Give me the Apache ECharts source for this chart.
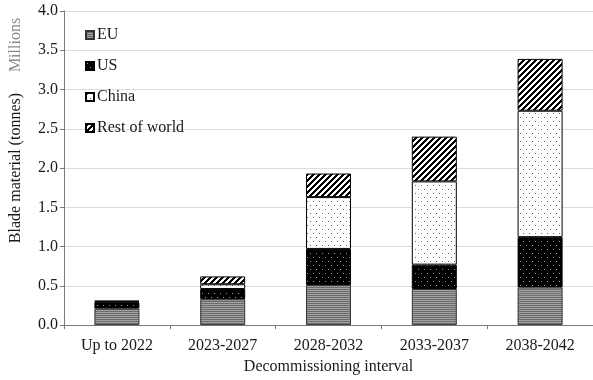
<!DOCTYPE html>
<html>
<head>
<meta charset="utf-8">
<script src="https://cdn.jsdelivr.net/npm/echarts@6/dist/echarts.min.js"></script>
<style>
  html, body { margin: 0; padding: 0; background: #fff; }
  #chart { width: 593px; height: 380px; }
</style>
</head>
<body>
<div id="chart"></div>
<script>
// Decommissioned blade material by region, millions of tonnes
const categories = ['Up to 2022', '2023-2027', '2028-2032', '2033-2037', '2038-2042'];
const euValues = [0.21, 0.33, 0.51, 0.46, 0.48];
const usValues = [0.08, 0.13, 0.46, 0.31, 0.64];
const chinaValues = [0.01, 0.06, 0.66, 1.06, 1.61];
const restValues = [0.01, 0.10, 0.30, 0.57, 0.66];
const yTicks = [0, 0.5, 1.0, 1.5, 2.0, 2.5, 3.0, 3.5, 4.0];

const FONT = "'Liberation Serif', 'DejaVu Serif', serif";
const FS = 16;

// Small repeating tiles used as fill patterns
function tile(w, h, draw) {
  const c = document.createElement('canvas');
  c.width = w; c.height = h;
  const ctx = c.getContext('2d');
  draw(ctx, w, h);
  return { image: c, repeat: 'repeat' };
}

const euFill = tile(4, 2, (ctx) => {
  ctx.fillStyle = '#a2a2a2'; ctx.fillRect(0, 0, 4, 1);
  ctx.fillStyle = '#6c6c6c'; ctx.fillRect(0, 1, 4, 1);
});
const usFill = tile(6, 8, (ctx) => {
  ctx.fillStyle = '#000'; ctx.fillRect(0, 0, 6, 8);
  ctx.fillStyle = '#9a9a9a';
  ctx.fillRect(1, 1, 1, 1);
  ctx.fillRect(4, 5, 1, 1);
});
const chinaFill = tile(6, 8, (ctx) => {
  ctx.fillStyle = '#fff'; ctx.fillRect(0, 0, 6, 8);
  ctx.fillStyle = '#6a6a6a';
  ctx.fillRect(1, 1, 1, 1);
  ctx.fillRect(4, 5, 1, 1);
});
const restFill = tile(6, 6, (ctx) => {
  for (let y = 0; y < 6; y++) {
    for (let x = 0; x < 6; x++) {
      ctx.fillStyle = ((x + y) % 6) < 3 ? '#000' : '#fff';
      ctx.fillRect(x, y, 1, 1);
    }
  }
});

function barSeries(name, data, fill, border) {
  return {
    name: name,
    type: 'bar',
    stack: 'total',
    barWidth: 45,
    data: data,
    itemStyle: { color: fill, borderColor: border, borderWidth: 1 },
    emphasis: { disabled: true }
  };
}

const chart = echarts.init(document.getElementById('chart'), null, { renderer: 'canvas' });
chart.setOption({
  animation: false,
  backgroundColor: '#fff',
  textStyle: { fontFamily: FONT },
  grid: { left: 62, top: 11, width: 534, bottom: 53, containLabel: false },
  legend: {
    orient: 'vertical',
    left: 80,
    top: 22,
    icon: 'rect',
    itemWidth: 8,
    itemHeight: 8,
    itemGap: 15,
    selectedMode: false,
    textStyle: { fontFamily: FONT, fontSize: FS, color: '#1a1a1a', padding: [0, 0, 0, -2] },
    data: ['EU', 'US', 'China', 'Rest of world']
  },
  xAxis: {
    type: 'category',
    data: categories,
    name: 'Decommissioning interval',
    nameLocation: 'middle',
    nameGap: 33,
    nameTextStyle: { fontFamily: FONT, fontSize: FS, color: '#1a1a1a' },
    axisLine: { lineStyle: { color: '#7a7a7a', width: 1 } },
    axisTick: { show: true, length: 4, lineStyle: { color: '#7a7a7a' } },
    axisLabel: { fontFamily: FONT, fontSize: FS, color: '#1a1a1a', margin: 13 }
  },
  yAxis: {
    type: 'value',
    min: yTicks[0],
    max: yTicks[yTicks.length - 1],
    interval: yTicks[1] - yTicks[0],
    name: 'Blade material (tonnes)',
    nameLocation: 'middle',
    nameGap: 40,
    nameRotate: 90,
    nameTextStyle: { fontFamily: FONT, fontSize: FS, color: '#1a1a1a' },
    axisLine: { show: true, lineStyle: { color: '#7a7a7a', width: 1 } },
    axisTick: { show: true, length: 4, lineStyle: { color: '#7a7a7a' } },
    axisLabel: {
      fontFamily: FONT, fontSize: FS, color: '#1a1a1a', margin: 6,
      formatter: (v) => v.toFixed(1)
    },
    splitLine: { show: true, lineStyle: { color: '#dcdcdc', width: 1 } }
  },
  graphic: [{
    type: 'text',
    x: 16,
    y: 45,
    rotation: Math.PI / 2,
    style: {
      text: 'Millions',
      font: FS + 'px ' + FONT,
      fill: '#8c8c8c',
      align: 'center',
      verticalAlign: 'middle'
    }
  }],
  series: [
    barSeries('EU', euValues, euFill, '#333'),
    barSeries('US', usValues, usFill, '#000'),
    barSeries('China', chinaValues, chinaFill, '#000'),
    barSeries('Rest of world', restValues, restFill, '#000')
  ]
});
</script>
</body>
</html>
